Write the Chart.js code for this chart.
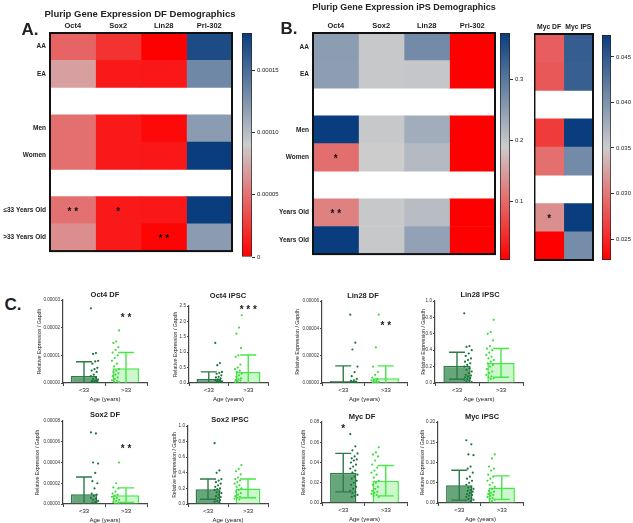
<!DOCTYPE html>
<html>
<head>
<meta charset="utf-8">
<script src="https://cdn.jsdelivr.net/npm/chart.js@4.4.0/dist/chart.umd.min.js"></script>
<style>
body { margin: 0; background: #fff; font-family: Arial, "Liberation Sans", sans-serif; }
#fig { position: relative; width: 633px; height: 523px; overflow: hidden; background: #fff; }
canvas { position: absolute; }
.t { position: absolute; font-weight: bold; color: #222; white-space: nowrap; line-height: 1; transform: translate(-50%, -50%); }
</style>
</head>
<body>
<div id="fig"></div>
<script>
/* ----- Filas y columnas de los mapas de calor ----- */
const filasA = ['AA', 'EA', '', 'Men', 'Women', '', '≤33 Years Old', '>33 Years Old'];
const filasB = ['AA', 'EA', '', 'Men', 'Women', '', 'Years Old', 'Years Old'];
const colsGenes = ['Oct4', 'Sox2', 'Lin28', 'Pri-302'];
const colsMyc = ['Myc DF', 'Myc IPS'];

/* ----- Panel A: DF ----- */
const dfOct4   = [4.4e-5, 7.0e-5, null, 4.9e-5, 4.9e-5, null, 5.0e-5, 6.2e-5];
const dfSox2   = [2.2e-5, 1.1e-5, null, 1.1e-5, 1.1e-5, null, 1.1e-5, 1.1e-5];
const dfLin28  = [0, 1.0e-5, null, 4e-6, 1.0e-5, null, 1.0e-5, 2e-6];
const dfPri302 = [1.71e-4, 1.33e-4, null, 1.2e-4, 1.8e-4, null, 1.8e-4, 1.2e-4];
const rangoA = [0, 1.8e-4];
const ticksA = [0, 5e-5, 1e-4, 1.5e-4];
const etiquetasA = ['0', '0.00005', '0.00010', '0.00015'];

/* ----- Panel B: iPS ----- */
const ipsOct4   = [0.251, 0.25, null, 0.375, 0.105, null, 0.122, 0.375];
const ipsSox2   = [0.195, 0.195, null, 0.195, 0.19, null, 0.195, 0.195];
const ipsLin28  = [0.275, 0.198, null, 0.23, 0.213, null, 0.21, 0.245];
const ipsPri302 = [0.005, 0.005, null, 0.005, 0.005, null, 0.005, 0.005];
const rangoB = [0.005, 0.375];
const ticksB = [0.1, 0.2, 0.3];
const etiquetasB = ['0.1', '0.2', '0.3'];

/* ----- Myc ----- */
const mycDF  = [0.0283, 0.028, null, 0.0263, 0.0294, null, 0.0313, 0.0227];
const mycIPS = [0.0446, 0.0445, null, 0.0474, 0.0407, null, 0.0474, 0.0405];
const rangoMyc = [0.0227, 0.0474];
const ticksMyc = [0.025, 0.03, 0.035, 0.04, 0.045];
const etiquetasMyc = ['0.025', '0.030', '0.035', '0.040', '0.045'];

/* ----- Asteriscos de los mapas ----- */
const estrellasA = [{ fila: 6, col: 0, txt: '* *' }, { fila: 6, col: 1, txt: '*' }, { fila: 7, col: 2, txt: '* *' }];
const estrellasB = [{ fila: 4, col: 0, txt: '*' }, { fila: 6, col: 0, txt: '* *' }];
const estrellasMyc = [{ fila: 6, col: 0, txt: '*' }];

/* ----- Panel C: barras por edad ----- */
const grupos = ['<33', '>33'];

const oct4DFMedia = [2.5e-6, 5.3e-6];
const oct4DFSd = [5.2e-6, 5.7e-6];
const oct4DFMenores = [2.7e-5, 1.08e-5, 1.05e-5, 8e-6, 7.8e-6, 7e-6, 5.5e-6, 5e-6, 4.5e-6, 4e-6, 3e-6, 2.5e-6, 2e-6, 1.5e-6, 1.2e-6, 1e-6, 8e-7, 6e-7, 5e-7, 4e-7, 3e-7, 2e-7, 1e-7];
const oct4DFMayores = [1.9e-5, 1.5e-5, 1.45e-5, 1.3e-5, 1.2e-5, 1.1e-5, 1e-5, 9e-6, 8e-6, 7e-6, 6e-6, 5e-6, 4.5e-6, 4e-6, 3.5e-6, 3e-6, 2.5e-6, 2e-6, 1.5e-6, 1e-6, 8e-7, 5e-7, 3e-7];

const oct4IPSMedia = [0.13, 0.36];
const oct4IPSSd = [0.23, 0.55];
const oct4IPSMenores = [1.3, 0.65, 0.58, 0.36, 0.33, 0.3, 0.25, 0.2, 0.18, 0.15, 0.12, 0.1, 0.08, 0.06, 0.05, 0.04, 0.03, 0.02, 0.01, 0.01];
const oct4IPSMayores = [2.2, 1.8, 1.6, 1.14, 0.9, 0.85, 0.6, 0.5, 0.45, 0.4, 0.35, 0.3, 0.25, 0.2, 0.15, 0.12, 0.1, 0.08, 0.05, 0.03];

const lin28DFMedia = [1.5e-6, 3.5e-6];
const lin28DFSd = [1.1e-5, 9e-6];
const lin28DFMenores = [5e-5, 2.95e-5, 2.45e-5, 1.2e-5, 8e-6, 5e-6, 3e-6, 2e-6, 1.5e-6, 1e-6, 8e-7, 5e-7, 3e-7, 2e-7, 1e-7, 1e-7, 5e-8];
const lin28DFMayores = [5e-5, 2.6e-5, 1.2e-5, 8e-6, 6e-6, 4e-6, 3e-6, 2.5e-6, 2e-6, 1.5e-6, 1e-6, 8e-7, 5e-7, 3e-7, 2e-7, 1e-7];

const lin28IPSMedia = [0.21, 0.245];
const lin28IPSSd = [0.165, 0.175];
const lin28IPSMenores = [0.85, 0.45, 0.44, 0.4, 0.36, 0.33, 0.3, 0.28, 0.26, 0.24, 0.22, 0.2, 0.18, 0.16, 0.14, 0.12, 0.1, 0.09, 0.08, 0.07, 0.06, 0.05, 0.04, 0.03, 0.02, 0.01];
const lin28IPSMayores = [0.77, 0.62, 0.6, 0.52, 0.45, 0.42, 0.4, 0.37, 0.34, 0.32, 0.3, 0.28, 0.26, 0.24, 0.22, 0.2, 0.17, 0.14, 0.12, 0.1, 0.08, 0.07, 0.06, 0.05];

const sox2DFMedia = [9.5e-6, 8.5e-6];
const sox2DFSd = [1.65e-5, 7e-6];
const sox2DFMenores = [6.9e-5, 6.8e-5, 4e-5, 3.9e-5, 3e-5, 2.2e-5, 2e-5, 1.5e-5, 1e-5, 9e-6, 8e-6, 6e-6, 5e-6, 4e-6, 3e-6, 2e-6, 1e-6, 5e-7, 2e-7];
const sox2DFMayores = [4e-5, 2e-5, 1.6e-5, 1.5e-5, 1.2e-5, 1e-5, 9e-6, 8e-6, 7e-6, 6e-6, 5e-6, 4e-6, 3e-6, 2e-6, 1e-6, 5e-7];

const sox2IPSMedia = [0.19, 0.2];
const sox2IPSSd = [0.13, 0.12];
const sox2IPSMenores = [0.78, 0.43, 0.4, 0.32, 0.3, 0.28, 0.26, 0.24, 0.22, 0.2, 0.19, 0.18, 0.16, 0.15, 0.14, 0.12, 0.1, 0.09, 0.08, 0.06, 0.05, 0.04, 0.03, 0.02];
const sox2IPSMayores = [0.5, 0.45, 0.42, 0.38, 0.34, 0.32, 0.3, 0.28, 0.26, 0.24, 0.22, 0.2, 0.18, 0.16, 0.14, 0.12, 0.1, 0.09, 0.08, 0.07, 0.06];

const mycDFMedia = [0.030, 0.022];
const mycDFSd = [0.019, 0.015];
const mycDFMenores = [0.068, 0.056, 0.052, 0.049, 0.046, 0.044, 0.043, 0.042, 0.04, 0.038, 0.036, 0.034, 0.032, 0.03, 0.028, 0.026, 0.024, 0.022, 0.02, 0.018, 0.016, 0.014, 0.012, 0.011, 0.01, 0.008, 0.007, 0.006];
const mycDFMayores = [0.055, 0.05, 0.048, 0.046, 0.042, 0.038, 0.035, 0.032, 0.03, 0.028, 0.025, 0.022, 0.02, 0.018, 0.016, 0.014, 0.012, 0.011, 0.01, 0.009, 0.008, 0.007, 0.006];

const mycIPSMedia = [0.044, 0.038];
const mycIPSSd = [0.037, 0.029];
const mycIPSMenores = [0.155, 0.145, 0.12, 0.118, 0.09, 0.085, 0.075, 0.065, 0.06, 0.055, 0.05, 0.045, 0.04, 0.038, 0.035, 0.032, 0.03, 0.028, 0.025, 0.022, 0.02, 0.018, 0.015, 0.012, 0.01, 0.008, 0.005];
const mycIPSMayores = [0.12, 0.11, 0.09, 0.085, 0.08, 0.07, 0.065, 0.06, 0.055, 0.05, 0.045, 0.04, 0.035, 0.03, 0.028, 0.025, 0.022, 0.02, 0.018, 0.015, 0.012, 0.01, 0.008, 0.005];

/* ----- Utilidades ----- */
const fig = document.getElementById('fig');
const ROJO = [255, 0, 0], GRIS = [204, 204, 204], AZUL = [10, 61, 125];

function escala(v, min, max) {
    let t = Math.max(0, Math.min(1, (v - min) / (max - min)));
    let a, b, u;
    if (t < 0.5) { a = ROJO; b = GRIS; u = t * 2; } else { a = GRIS; b = AZUL; u = (t - 0.5) * 2; }
    return 'rgb(' + a.map((c, i) => Math.round(c + (b[i] - c) * u)).join(',') + ')';
}

function lienzo(x, y, w, h) {
    const c = document.createElement('canvas');
    c.width = w; c.height = h;
    c.style.left = x + 'px'; c.style.top = y + 'px';
    fig.appendChild(c);
    return c;
}

function texto(t, cx, cy, size) {
    const d = document.createElement('div');
    d.className = 't';
    d.textContent = t;
    d.style.left = cx + 'px'; d.style.top = cy + 'px'; d.style.fontSize = size + 'px';
    fig.appendChild(d);
}

/* ----- Mapa de calor con barras apiladas ----- */
function mapaCalor(area, filas, cols, valores, rango, estrellas, yw, fuenteCol) {
    const cv = lienzo(area.l - yw, area.t - 15, area.r - area.l + yw + 2, area.b - area.t + 17);
    new Chart(cv, {
        type: 'bar',
        data: {
            labels: filas,
            datasets: cols.map((c, j) => ({
                label: c,
                data: valores[j].map(v => v === null ? null : 1),
                backgroundColor: valores[j].map(v => v === null ? 'rgba(0,0,0,0)' : escala(v, rango[0], rango[1])),
                borderWidth: 0,
                barPercentage: 1,
                categoryPercentage: 1
            }))
        },
        options: {
            indexAxis: 'y',
            responsive: false,
            animation: false,
            events: [],
            layout: { padding: { top: 0, right: 2, bottom: 2, left: 0 } },
            plugins: { legend: { display: false }, tooltip: { enabled: false } },
            scales: {
                x: {
                    type: 'linear', position: 'top', stacked: true, min: 0, max: cols.length,
                    grid: { display: false, drawTicks: false }, border: { display: false },
                    afterBuildTicks: s => { s.ticks = cols.map((c, j) => ({ value: j + 0.5 })); },
                    ticks: { callback: v => cols[Math.floor(v)], font: { size: fuenteCol, weight: 'bold' }, color: '#222', padding: 3, autoSkip: false, maxRotation: 0 },
                    afterFit: s => { s.height = 15; }
                },
                y: {
                    stacked: true,
                    grid: { display: false, drawTicks: false }, border: { display: false },
                    ticks: { display: yw > 0, font: { size: 6.5, weight: 'bold' }, color: '#222', autoSkip: false, padding: 4 },
                    afterFit: s => { s.width = yw; }
                }
            }
        },
        plugins: [{
            id: 'marco',
            afterDraw(ch) {
                const a = ch.chartArea, k = ch.ctx;
                k.save();
                k.fillStyle = '#111';
                k.font = 'bold 10px Arial';
                k.textAlign = 'center';
                k.textBaseline = 'middle';
                estrellas.forEach(e => {
                    k.fillText(e.txt, ch.scales.x.getPixelForValue(e.col + 0.5), ch.scales.y.getPixelForValue(e.fila) + 2);
                });
                k.strokeStyle = '#111';
                k.lineWidth = 2;
                k.strokeRect(a.left, a.top, a.width, a.height);
                k.restore();
            }
        }]
    });
}

/* ----- Barra de color ----- */
function barraColor(area, rango, ticks, etiquetas, ancho) {
    const cv = lienzo(area.l, area.t - 6, area.r - area.l + ancho, area.b - area.t + 12);
    new Chart(cv, {
        type: 'bar',
        data: {
            labels: [''],
            datasets: [{
                data: [rango],
                backgroundColor: ctx => {
                    const a = ctx.chart.chartArea;
                    if (!a) return '#ccc';
                    const g = ctx.chart.ctx.createLinearGradient(0, a.bottom, 0, a.top);
                    g.addColorStop(0, 'rgb(255,0,0)');
                    g.addColorStop(0.5, 'rgb(204,204,204)');
                    g.addColorStop(1, 'rgb(10,61,125)');
                    return g;
                },
                borderColor: '#222', borderWidth: 1, borderSkipped: false,
                barPercentage: 1, categoryPercentage: 1
            }]
        },
        options: {
            responsive: false,
            animation: false,
            events: [],
            layout: { padding: { top: 6, bottom: 6, left: 0, right: 0 } },
            plugins: { legend: { display: false }, tooltip: { enabled: false } },
            scales: {
                x: { display: false },
                y: {
                    position: 'right', min: rango[0], max: rango[1],
                    afterBuildTicks: s => { s.ticks = ticks.map(v => ({ value: v })); },
                    ticks: { callback: (v, i) => etiquetas[i], font: { size: 6 }, color: '#222', padding: 2 },
                    grid: { drawOnChartArea: false, tickLength: 3, color: '#333' },
                    border: { display: false },
                    afterFit: s => { s.width = ancho; }
                }
            }
        }
    });
}

/* ----- Grafico de barras con puntos y desviacion ----- */
const rellenoBarra = ['rgba(76,150,100,0.85)', 'rgba(200,247,200,0.9)'];
const bordeBarra = ['#2e7b48', '#45e845'];
const colorPunto = ['#1c7439', '#3ddc3d'];

function barras(c) {
    const cv = lienzo(c.l - c.yw, c.t - 6, c.r - c.l + c.yw + 4, c.b - c.t + 6 + 20);
    const jit = i => (((i * 7) % 11) - 5) * 0.034;
    new Chart(cv, {
        type: 'bar',
        data: {
            labels: grupos,
            datasets: [
                { data: c.medias, backgroundColor: rellenoBarra, borderColor: bordeBarra, borderWidth: 1.5, barPercentage: 0.62, categoryPercentage: 1, grouped: false, order: 3 },
                { type: 'scatter', xAxisID: 'xj', data: c.menores.map((v, i) => ({ x: jit(i), y: v })), backgroundColor: colorPunto[0], pointRadius: 1.1, borderWidth: 0, order: 1 },
                { type: 'scatter', xAxisID: 'xj', data: c.mayores.map((v, i) => ({ x: 1 + jit(i + 3), y: v })), backgroundColor: colorPunto[1], pointRadius: 1.1, borderWidth: 0, order: 2 }
            ]
        },
        options: {
            responsive: false,
            animation: false,
            events: [],
            layout: { padding: { top: 6, right: 4, bottom: 0, left: 0 } },
            plugins: { legend: { display: false }, tooltip: { enabled: false } },
            scales: {
                x: {
                    grid: { drawOnChartArea: false, tickLength: 3, color: '#444' },
                    border: { color: '#444', width: 1.2 },
                    ticks: { font: { size: 6 }, color: '#222', padding: 1 },
                    title: { display: true, text: 'Age (years)', font: { size: 6 }, color: '#222', padding: 0 },
                    afterFit: s => { s.height = 20; }
                },
                xj: { type: 'linear', min: -0.5, max: 1.5, display: false },
                y: {
                    min: 0, max: c.max,
                    ticks: { stepSize: c.paso, includeBounds: false, callback: v => v.toFixed(c.dec), font: { size: 4.6 }, color: '#333', padding: 1 },
                    grid: { drawOnChartArea: false, tickLength: 2, color: '#444' },
                    border: { color: '#444', width: 1.2 },
                    title: { display: true, text: 'Relative Expression / Gapdh', font: { size: 5.2 }, color: '#222', padding: 0 },
                    afterFit: s => { s.width = c.yw; }
                }
            }
        },
        plugins: [{
            id: 'desviacion',
            afterDatasetsDraw(ch) {
                const x = ch.scales.x, y = ch.scales.y, a = ch.chartArea, k = ch.ctx;
                k.save();
                k.beginPath();
                k.rect(a.left, a.top, a.width, a.height);
                k.clip();
                k.lineWidth = 1.4;
                c.medias.forEach((m, i) => {
                    const px = x.getPixelForValue(i);
                    const arriba = y.getPixelForValue(m + c.sd[i]);
                    const abajo = y.getPixelForValue(m - c.sd[i]);
                    k.strokeStyle = bordeBarra[i];
                    k.beginPath();
                    k.moveTo(px, abajo); k.lineTo(px, arriba);
                    k.moveTo(px - 8, arriba); k.lineTo(px + 8, arriba);
                    k.moveTo(px - 8, abajo); k.lineTo(px + 8, abajo);
                    k.stroke();
                });
                k.restore();
                k.save();
                k.fillStyle = '#222';
                k.font = 'bold 10px Arial';
                k.textAlign = 'center';
                k.textBaseline = 'middle';
                (c.estrellas || []).forEach(e => {
                    k.fillText(e.txt, x.getPixelForValue(e.g), y.getPixelForValue(e.y) + 2);
                });
                k.restore();
            }
        }]
    });
}

/* ----- Mapas de calor ----- */
mapaCalor({ l: 50, t: 33, r: 232, b: 257 }, filasA, colsGenes, [dfOct4, dfSox2, dfLin28, dfPri302], rangoA, estrellasA, 50, 7.5);
barraColor({ l: 242, t: 33, r: 252, b: 257 }, rangoA, ticksA, etiquetasA, 40);

mapaCalor({ l: 313, t: 33, r: 495, b: 260 }, filasB, colsGenes, [ipsOct4, ipsSox2, ipsLin28, ipsPri302], rangoB, estrellasB, 34, 7.5);
barraColor({ l: 500, t: 33, r: 510, b: 260 }, rangoB, ticksB, etiquetasB, 24);

mapaCalor({ l: 534, t: 34, r: 593, b: 260 }, filasB, colsMyc, [mycDF, mycIPS], rangoMyc, estrellasMyc, 0, 6.8);
barraColor({ l: 602, t: 35, r: 611, b: 260 }, rangoMyc, ticksMyc, etiquetasMyc, 26);

/* ----- Textos generales ----- */
texto('A.', 30, 29, 17);
texto('B.', 289, 28, 17);
texto('C.', 13, 304, 17);
texto('Plurip Gene Expression DF Demographics', 140, 14, 9.5);
texto('Plurip Gene Expression iPS Demographics', 404, 7, 9);

/* ----- Panel C ----- */
barras({ l: 63, t: 300, r: 147, b: 383, yw: 27, max: 3e-5, paso: 1e-5, dec: 5, medias: oct4DFMedia, sd: oct4DFSd, menores: oct4DFMenores, mayores: oct4DFMayores, estrellas: [{ g: 1, y: 2.4e-5, txt: '* *' }] });
texto('Oct4 DF', 105, 295, 7.5);

barras({ l: 189, t: 306, r: 268, b: 383, yw: 17, max: 2.5, paso: 0.5, dec: 1, medias: oct4IPSMedia, sd: oct4IPSSd, menores: oct4IPSMenores, mayores: oct4IPSMayores, estrellas: [{ g: 1, y: 2.43, txt: '* * *' }] });
texto('Oct4 iPSC', 228, 296, 7.5);

barras({ l: 322, t: 301, r: 407, b: 383, yw: 28, max: 6e-5, paso: 2e-5, dec: 5, medias: lin28DFMedia, sd: lin28DFSd, menores: lin28DFMenores, mayores: lin28DFMayores, estrellas: [{ g: 1, y: 4.3e-5, txt: '* *' }] });
texto('Lin28 DF', 363, 296, 7.5);

barras({ l: 435, t: 301, r: 523, b: 383, yw: 15, max: 1, paso: 0.2, dec: 1, medias: lin28IPSMedia, sd: lin28IPSSd, menores: lin28IPSMenores, mayores: lin28IPSMayores });
texto('Lin28 iPSC', 480, 295, 7.5);

barras({ l: 63, t: 421, r: 147, b: 504, yw: 29, max: 8e-5, paso: 2e-5, dec: 5, medias: sox2DFMedia, sd: sox2DFSd, menores: sox2DFMenores, mayores: sox2DFMayores, estrellas: [{ g: 1, y: 5.5e-5, txt: '* *' }] });
texto('Sox2 DF', 105, 415, 7.5);

barras({ l: 188, t: 426, r: 268, b: 504, yw: 17, max: 1, paso: 0.2, dec: 1, medias: sox2IPSMedia, sd: sox2IPSSd, menores: sox2IPSMenores, mayores: sox2IPSMayores });
texto('Sox2 iPSC', 230, 420, 7.5);

barras({ l: 322, t: 422, r: 407, b: 503, yw: 22, max: 0.08, paso: 0.02, dec: 2, medias: mycDFMedia, sd: mycDFSd, menores: mycDFMenores, mayores: mycDFMayores, estrellas: [{ g: 0, y: 0.075, txt: '*' }] });
texto('Myc DF', 362, 417, 7.5);

barras({ l: 438, t: 422, r: 523, b: 503, yw: 19, max: 0.2, paso: 0.05, dec: 2, medias: mycIPSMedia, sd: mycIPSSd, menores: mycIPSMenores, mayores: mycIPSMayores });
texto('Myc iPSC', 482, 417, 7.5);
</script>
</body>
</html>
